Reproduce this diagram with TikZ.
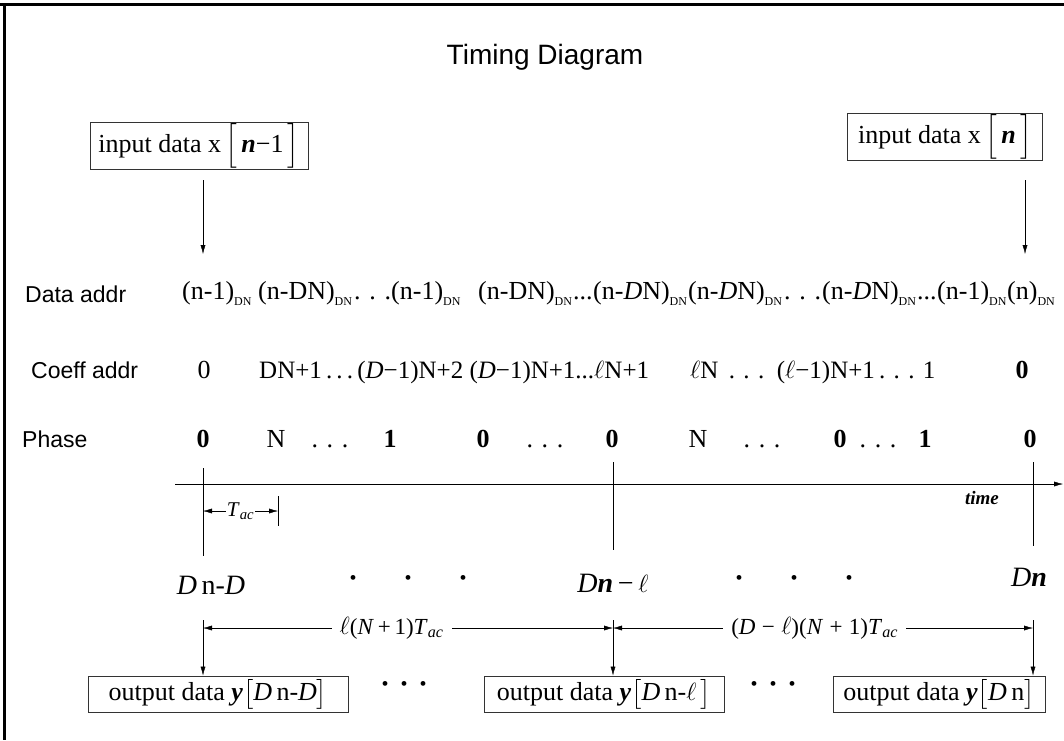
\documentclass[tikz,border=0pt]{standalone}
\usepackage{amsmath}
\usepackage{fontspec}
\setmainfont{Liberation Serif}
\setsansfont{Liberation Sans}
\usetikzlibrary{arrows.meta, positioning}
\newcommand{\dn}{\raisebox{-6pt}{\fontsize{12}{12}\selectfont DN}}
\newcommand{\Lbrk}{$\Big[$}
\newcommand{\Rbrk}{$\Big]$}
\newcommand{\itl}{$\ell$}
\newcommand{\tac}{\textit{T}\textsubscript{\textit{ac}}}

\begin{document}
\begin{tikzpicture}[x=1pt, y=-1pt,
  lab/.style={font=\sffamily\fontsize{23}{26}\selectfont, anchor=base west, inner sep=0pt},
  val/.style={font=\fontsize{26}{28}\selectfont, anchor=base west, inner sep=0pt},
  cf/.style={font=\fontsize{25}{28}\selectfont, anchor=base west, inner sep=0pt},
  ph/.style={font=\bfseries\fontsize{26}{28}\selectfont, anchor=base, inner sep=0pt},
  inst/.style={font=\fontsize{28}{30}\selectfont, anchor=base},
  span/.style={fill=white, inner xsep=8pt, font=\fontsize{23}{25}\selectfont},
  databox/.style={draw=black!80, line width=0.9pt, font=\fontsize{26}{28}\selectfont, inner sep=1pt},
  tip/.style={-{Latex[length=9pt,width=5pt]}},
  dim/.style={{Latex[length=9pt,width=5pt]}-{Latex[length=9pt,width=5pt]}}]
\useasboundingbox (0,0) rectangle (1064,740);
\draw[line width=3pt] (0,4) -- (1064,4);
\draw[line width=3pt] (4,4) -- (4,740);

\node[font=\sffamily\fontsize{28}{32}\selectfont] (title) at (545,57) {Timing Diagram};

% input samples
\node[databox, minimum width=218, minimum height=44] (inL) at (199,146) {input data x\,\Lbrk\,\textbf{\textit{n}}−1\,\Rbrk};
\node[databox, minimum width=195, minimum height=42] (inR) at (945,137) {input data x\,\Lbrk\,\textbf{\textit{n}}\,\Rbrk};
\coordinate (aL) at (203,180);
\coordinate (aR) at (1025,180);
\draw[tip] (aL) -- ++(0,74);
\draw[tip] (aR) -- ++(0,74);

% data addresses
\node[lab] (dlab) at (25,302) {Data addr};
\node[val] (d1) at (182,299) {(n-1)\dn};
\node[val] (d2) at (258,299) {(n-DN)\dn};
\node[val] (dd1) at (354,299) {.\,\,.\,\,.};
\node[val] (d3) at (391,299) {(n-1)\dn};
\node[val] (d4) at (478,299) {(n-DN)\dn};
\node[val] (dd2) at (573,299) {...};
\node[val] (d5) at (593,299) {(n-\textit{D}N)\dn};
\node[val] (d6) at (688,299) {(n-\textit{D}N)\dn};
\node[val] (dd3) at (784,299) {.\,\,.\,\,.};
\node[val] (d7) at (822,299) {(n-\textit{D}N)\dn};
\node[val] (dd4) at (917,299) {...};
\node[val] (d8) at (937,299) {(n-1)\dn};
\node[val] (d9) at (1007,299) {(n)\dn};

% coefficient addresses
\node[lab] (clab) at (31,378) {Coeff addr};
\node[val, anchor=base] (c1) at (204,378) {0};
\node[cf] (c2) at (259,378) {DN+1\,.\,.\,.\,(\textit{D}−1)N+2 (\textit{D}−1)N+1...\itl N+1};
\node[cf] (c3) at (690,378) {\itl N\, .\,\,.\,\,.\, (\itl−1)N+1\,.\,\,.\,\,. 1};
\node[ph] (c4) at (1022,378) {0};

% phase
\node[lab] (plab) at (22,447) {Phase};
\node[ph] (p1) at (203,447) {0};
\node[val, anchor=base] (p2) at (276,447) {N};
\node[val, anchor=base] (pd1) at (330,447) {.\,\,.\,\,.};
\node[ph] (p3) at (390,447) {1};
\node[ph] (p4) at (483,447) {0};
\node[val, anchor=base] (pd2) at (545,447) {.\,\,.\,\,.};
\node[ph] (p5) at (612,447) {0};
\node[val, anchor=base] (p6) at (698,447) {N};
\node[val, anchor=base] (pd3) at (762,447) {.\,\,.\,\,.};
\node[ph] (p7) at (840,447) {0};
\node[val, anchor=base] (pd4) at (878,447) {.\,\,.\,\,.};
\node[ph] (p8) at (925,447) {1};
\node[ph] (p9) at (1030,447) {0};

% time axis
\coordinate (ax0) at (175,484);
\coordinate (ax1) at (1063,484);
\draw[tip] (ax0) -- (ax1);
\node[font=\bfseries\itshape\fontsize{19}{22}\selectfont] (timelab) at (982,498) {time};
\draw (203,468) -- (203,556);
\draw (613,462) -- (613,550);
\draw (1033,462) -- (1033,546);
\coordinate (tA) at (203,511);
\coordinate (tB) at (278,511);
\draw (tB) ++(0,-15) -- ++(0,30);
\draw[dim] (tA) -- (tB) node[midway, fill=white, inner sep=1pt, font=\fontsize{21}{22}\selectfont] {\tac};

% output instants
\node[inst] (oL) at (211,594) {\textit{D}\,n-\textit{D}};
\node[inst] (oM) at (613,592) {\textit{D}\textbf{\textit{n}}\,−\,\itl};
\node[inst] (oR) at (1029,586) {\textit{D}\textbf{\textit{n}}};
\node[font=\fontsize{20}{22}\selectfont] (gap1) at (408,580) {•\hspace{48pt}•\hspace{48pt}•};
\node[font=\fontsize{20}{22}\selectfont] (gap2) at (794,580) {•\hspace{48pt}•\hspace{48pt}•};

\coordinate (mL) at (203,628);
\coordinate (mM) at (613,628);
\coordinate (mR) at (1033,628);
\draw[dim] (mL) -- (mM) node[span, pos=0.46] {\itl(\textit{N}\,+\,1)\tac};
\draw[dim] (mM) -- (mR) node[span, pos=0.48] {(\textit{D}\;−\;\itl)(\textit{N}\;+\;1)\tac};

% output samples
\node[databox, minimum width=260, minimum height=36] (outL) at (218,694) {output data \textbf{\textit{y}}$\big[$\textit{D}\,n-\textit{D}$\big]$};
\node[databox, minimum width=240, minimum height=36] (outM) at (604,694) {output data \textbf{\textit{y}}$\big[$\textit{D}\,n-\itl\,$\big]$};
\node[databox, minimum width=212, minimum height=36] (outR) at (939,694) {output data \textbf{\textit{y}}$\big[$\textit{D}\,n$\big]$};
\node[font=\fontsize{20}{22}\selectfont] (gap3) at (404,686) {•\hspace{12pt}•\hspace{12pt}•};
\node[font=\fontsize{20}{22}\selectfont] (gap4) at (773,686) {•\hspace{12pt}•\hspace{12pt}•};

\coordinate (vL) at (203,620);
\coordinate (vM) at (613,620);
\coordinate (vR) at (1033,620);
\draw[tip] (vL) -- (vL |- outL.north);
\draw[tip] (vM) -- (vM |- outM.north);
\draw[tip] (vR) -- (vR |- outR.north);
\end{tikzpicture}
\end{document}
